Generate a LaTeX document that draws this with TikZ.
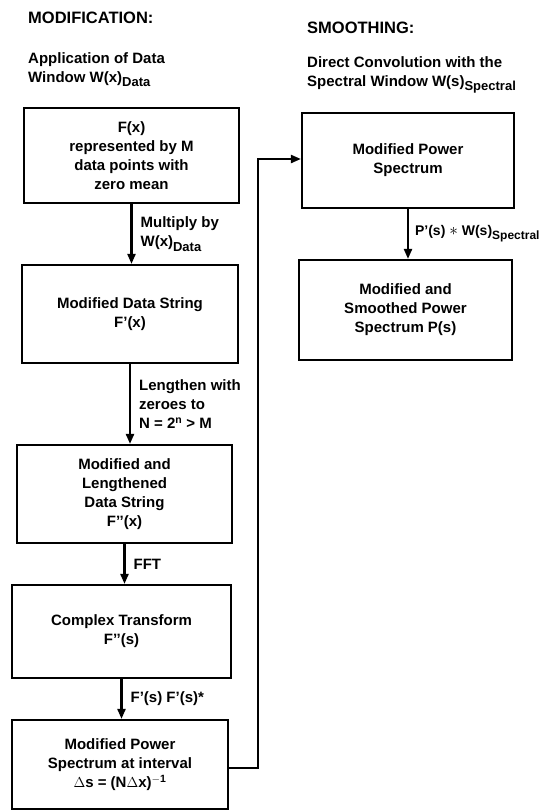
\documentclass[tikz,border=0pt]{standalone}
\usepackage{fontspec}
\setmainfont{Liberation Sans}
\usetikzlibrary{arrows.meta}
\newcommand{\lsub}[2][13]{\raisebox{-0.55ex}{\fontsize{#1}{#1}\selectfont #2}}
\begin{document}
\begin{tikzpicture}[x=1pt,y=-1pt,
  box/.style={draw, line width=2.2pt, align=center, inner sep=0pt,
    font=\bfseries\fontsize{15}{19}\selectfont},
  arr/.style={line width=2.2pt, -{Triangle[length=10pt,width=8pt]}},
  lbl/.style={anchor=west, align=left, inner sep=0pt, xshift=8pt,
    font=\bfseries\fontsize{15}{19}\selectfont},
  head/.style={anchor=west, inner sep=0pt, font=\bfseries\fontsize{16.5}{18}\selectfont},
  subhead/.style={anchor=north west, align=left, inner sep=0pt,
    font=\bfseries\fontsize{15}{19}\selectfont}]
\useasboundingbox (0,0) rectangle (547,812);

% headings
\node[head] (t1) at (28,18) {MODIFICATION:};
\node[subhead] (s1) at (28,52) {Application of Data\\Window W(x)\lsub{Data}};
\node[head] (t2) at (307,28) {SMOOTHING:};
\node[subhead] (s2) at (307,56) {Direct Convolution with the\\Spectral Window W(s)\lsub{Spectral}};

% left column
\node[box, minimum width=215pt, minimum height=95pt] (b1) at (131.5,155.5)
  {F(x)\\represented by M\\data points with\\zero mean};
\node[box, minimum width=216pt, minimum height=98pt] (b2) at (130,314)
  {Modified Data String\\F{'}(x)};
\node[box, minimum width=215pt, minimum height=98pt] (b3) at (124.5,494)
  {Modified and\\Lengthened\\Data String\\F{'}{'}(x)};
\node[box, minimum width=219pt, minimum height=93pt] (b4) at (121.5,631.5)
  {Complex Transform\\F{'}{'}(s)};
\node[box, minimum width=216pt, minimum height=89pt] (b5) at (120,764.5)
  {Modified Power\\Spectrum at interval\\$\Delta$s = (N$\Delta$x)\textsuperscript{$-$1}};

% right column
\node[box, minimum width=212pt, minimum height=95pt] (b6) at (408,160.5)
  {Modified Power\\Spectrum};
\node[box, minimum width=213pt, minimum height=100pt] (b7) at (405.5,310)
  {Modified and\\Smoothed Power\\Spectrum P(s)};

% arrows
\draw[arr] (b1.south) -- node[lbl] (l1) {Multiply by\\W(x)\lsub{Data}} (b1.south |- b2.north);
\draw[arr] (b2.south) -- node[lbl] (l2) {Lengthen with\\zeroes to\\N = 2\textsuperscript{n} {>} M} (b2.south |- b3.north);
\draw[arr] (b3.south) -- node[lbl] (l3) {FFT} (b3.south |- b4.north);
\draw[arr] (b4.south) -- node[lbl] (l4) {F{'}(s) F{'}(s)*} (b4.south |- b5.north);
\draw[arr] (b6.south) -- node[lbl, xshift=-2pt, font=\bfseries\fontsize{14}{18}\selectfont] (l5)
  {P{'}(s) {\fontsize{18}{18}\selectfont$\ast$} W(s)\lsub[12]{Spectral}} (b6.south |- b7.north);

\coordinate (c1) at (258,768);
\coordinate (c2) at (258,159);
\draw[arr] (b5.east |- c1) -- (c1) -- (c2) -- (b6.west |- c2);
\end{tikzpicture}
\end{document}
